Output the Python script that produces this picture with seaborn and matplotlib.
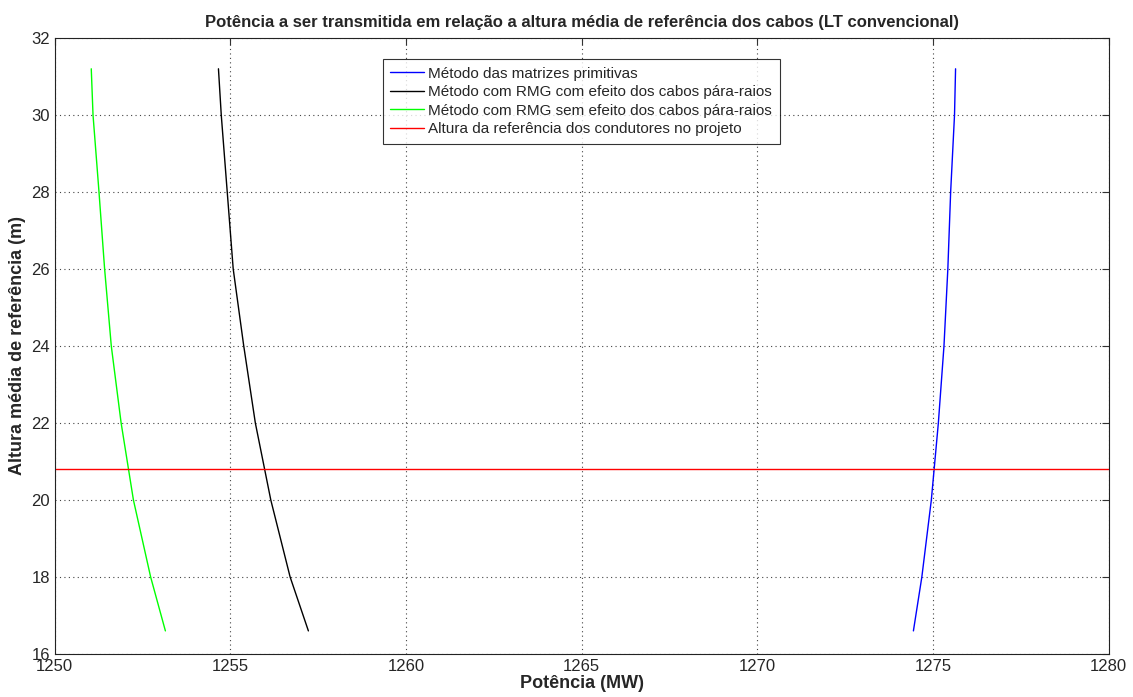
import matplotlib
matplotlib.use("Agg")
import matplotlib.pyplot as plt
import seaborn as sns
import pandas as pd
import numpy as np

# Data
altura = [16.6, 18, 20, 22, 24, 26, 28, 30, 31.2]
pot_matrizes = [1274.44, 1274.68, 1274.95, 1275.15, 1275.31, 1275.42, 1275.50, 1275.61, 1275.64]
pot_rmg_com = [1257.22, 1256.70, 1256.15, 1255.71, 1255.38, 1255.08, 1254.91, 1254.74, 1254.66]
pot_rmg_sem = [1253.15, 1252.73, 1252.24, 1251.89, 1251.61, 1251.42, 1251.26, 1251.09, 1251.04]
altura_projeto = 20.8

series_names = [
    "Método das matrizes primitivas",
    "Método com RMG com efeito dos cabos pára-raios",
    "Método com RMG sem efeito dos cabos pára-raios",
]
ref_name = "Altura da referência dos condutores no projeto"
colors = ["#0000ff", "#000000", "#00ff00"]

sns.set_style("white")
plt.rcParams["font.family"] = ["Liberation Sans", "DejaVu Sans"]

rows = []
for name, vals in zip(series_names, [pot_matrizes, pot_rmg_com, pot_rmg_sem]):
    for x, y in zip(vals, altura):
        rows.append({"Potência": x, "Altura": y, "Série": name})
df = pd.DataFrame(rows)

fig = plt.figure(figsize=(11.33, 6.97), dpi=100)
ax = fig.add_axes([0.0483, 0.0617, 0.9303, 0.8838])

sns.lineplot(data=df, x="Potência", y="Altura", hue="Série", palette=colors,
             sort=False, estimator=None, linewidth=1.0, ax=ax)
ax.axhline(altura_projeto, color="#ff0000", linewidth=1.0, label=ref_name)

ax.set_xlim(1250, 1280)
ax.set_ylim(16, 32)
ax.set_xticks(np.arange(1250, 1281, 5))
ax.set_yticks(np.arange(16, 33, 2))
ax.grid(True, linestyle=(0, (1, 3)), color="#444444", linewidth=0.8)
for s in ax.spines.values():
    s.set_color("#222222")
    s.set_linewidth(0.8)
ax.tick_params(direction="in", top=True, right=True, length=5, labelsize=12, color="#333333")

ax.set_title("Potência a ser transmitida em relação a altura média de referência dos cabos (LT convencional)",
             fontsize=12, fontweight="bold", pad=8)
ax.set_xlabel("Potência (MW)", fontsize=13, fontweight="bold", labelpad=1)
ax.set_ylabel("Altura média de referência (m)", fontsize=13, fontweight="bold", labelpad=4)

handles, labels = ax.get_legend_handles_labels()
leg = ax.legend(handles, labels, loc="upper left", bbox_to_anchor=(0.311, 0.966),
                fontsize=11, frameon=True, fancybox=False, edgecolor="black",
                handlelength=2.2, handletextpad=0.3, borderpad=0.5, labelspacing=0.3,
                borderaxespad=0)
leg.get_frame().set_linewidth(0.8)

fig.savefig("out.png", dpi=100)
